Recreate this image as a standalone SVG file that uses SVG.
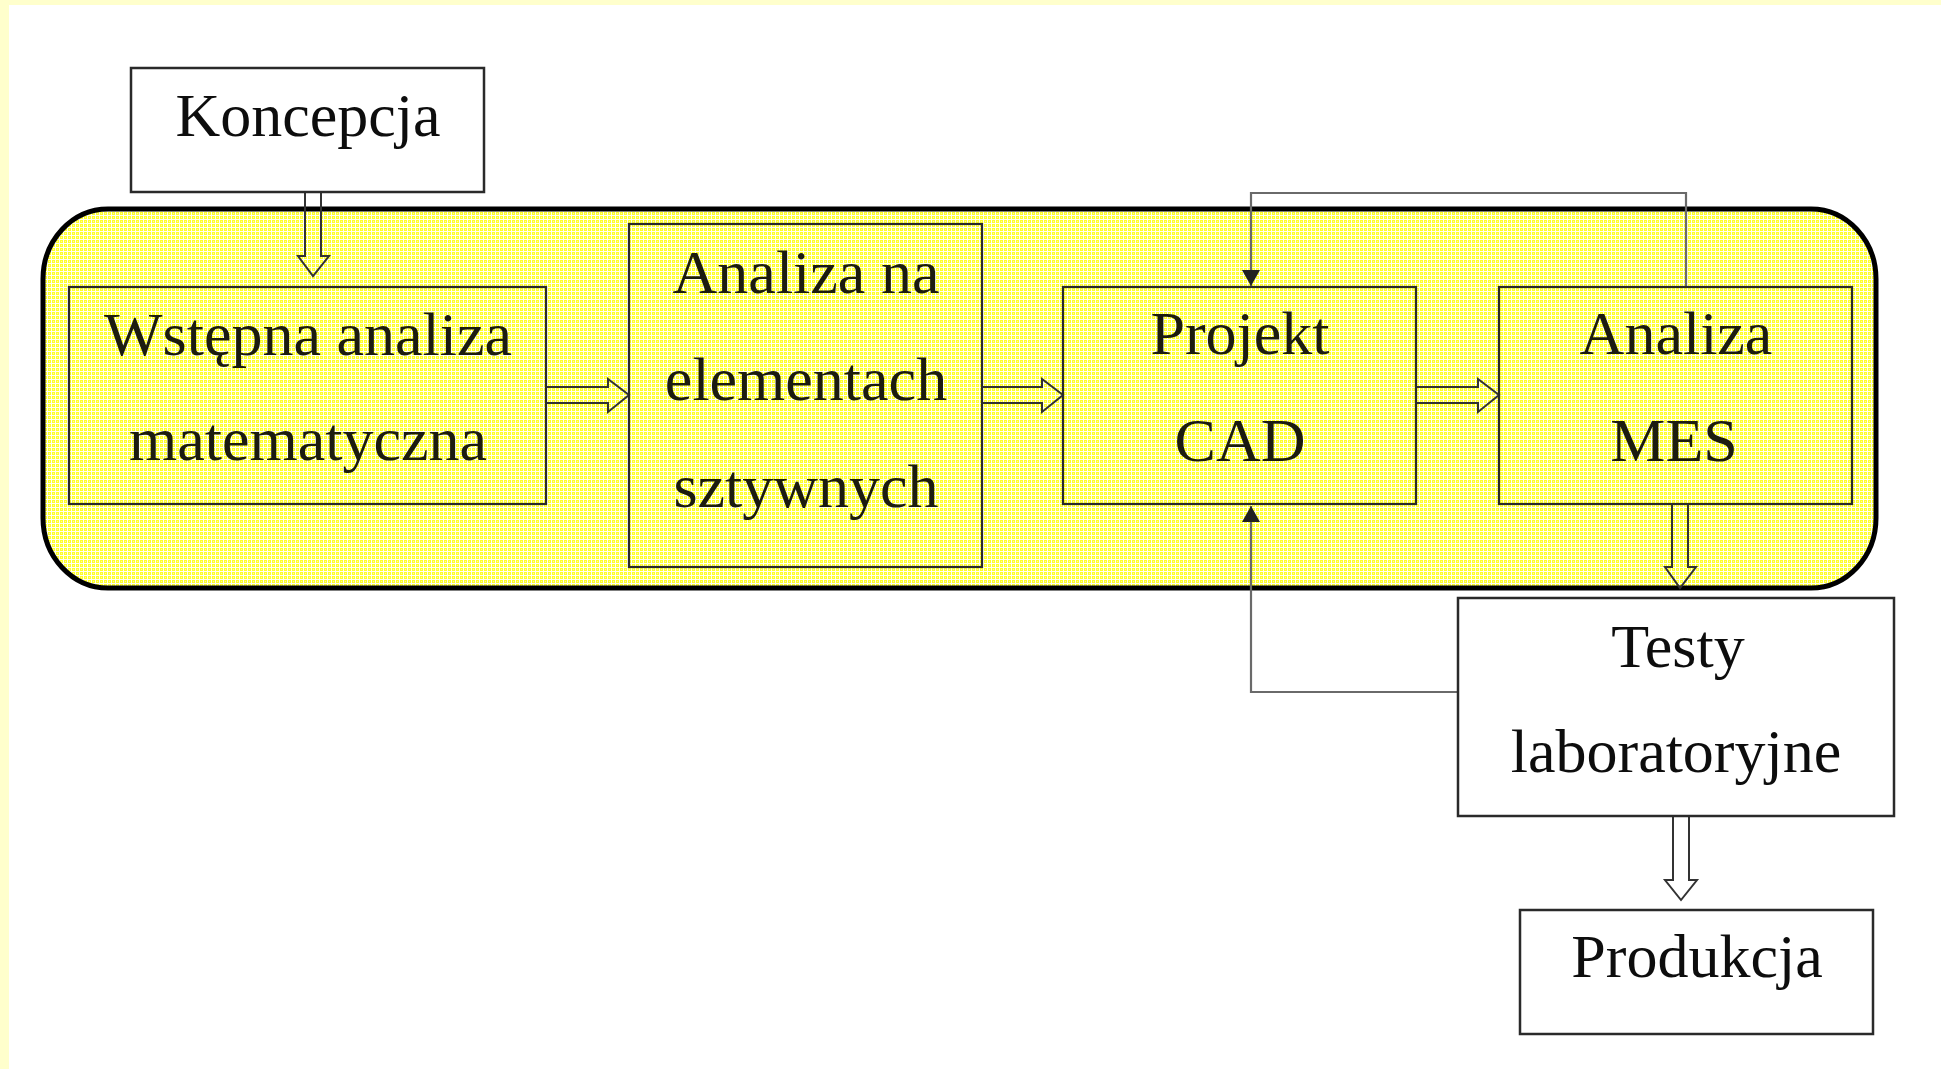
<svg xmlns="http://www.w3.org/2000/svg" width="1941" height="1069" viewBox="0 0 1941 1069">
  <defs>
    <pattern id="dots" x="0" y="0" width="4" height="4" patternUnits="userSpaceOnUse">
      <rect x="0" y="0" width="4" height="4" fill="#fffff2"/>
      <rect x="0" y="0" width="3" height="3" fill="#ffff2a"/>
      <rect x="1" y="1" width="1" height="1" fill="#ffff9a"/>
    </pattern>
    <marker id="tip" viewBox="0 0 16 18" refX="16" refY="9" markerWidth="16" markerHeight="18" markerUnits="userSpaceOnUse" orient="auto">
      <path d="M0,0 L16,9 L0,18 Z" fill="#222"/>
    </marker>
  </defs>
  <style>
    .box { fill: none; stroke: #2a2a2a; stroke-width: 2.2; }
    .wbox { fill: #ffffff; stroke: #2a2a2a; stroke-width: 2.5; }
    .lbl { font-family: "Liberation Serif", "Times New Roman", serif; font-size: 62px; fill: #0d0d0d; text-anchor: middle; }
    .in { fill: #1c1c10; }
    .hollow { fill: none; stroke: #333333; stroke-width: 2; stroke-linejoin: miter; }
    .fb { fill: none; stroke: #6a6a6a; stroke-width: 2.2; }
  </style>

  <!-- background -->
  <rect x="0" y="0" width="1941" height="1069" fill="#ffffff"/>
  <rect x="0" y="0" width="1941" height="5" fill="#ffffcc"/>
  <rect x="0" y="0" width="9" height="1069" fill="#ffffcc"/>

  <!-- container -->
  <g id="container">
    <rect x="43" y="209" width="1833" height="379" rx="65" ry="70" fill="url(#dots)" stroke="#000000" stroke-width="5"/>
  </g>

  <!-- connectors -->
  <g id="connectors">
    <!-- Koncepcja -> Wstepna -->
    <path class="hollow" d="M305,192 V256 H298 L313,276 L329,256 H321 V192"/>
    <!-- Wstepna -> Analiza na -->
    <path class="hollow" d="M546,387 H608 V379 L629,395 L608,412 V403 H546"/>
    <!-- Analiza na -> Projekt -->
    <path class="hollow" d="M982,387 H1042 V379 L1063,395 L1042,412 V403 H982"/>
    <!-- Projekt -> Analiza MES -->
    <path class="hollow" d="M1416,387 H1478 V379 L1499,395 L1478,412 V403 H1416"/>
    <!-- Analiza MES -> Testy -->
    <path class="hollow" d="M1672,504 V567 H1665 L1680,588 L1696,567 H1688 V504"/>
    <!-- Testy -> Produkcja -->
    <path class="hollow" d="M1673,816 V880 H1665 L1681,900 L1697,880 H1689 V816"/>
    <!-- feedback MES -> Projekt (top) -->
    <path class="fb" d="M1686,287 V193 H1251 V286" marker-end="url(#tip)"/>
    <!-- feedback Testy -> Projekt (bottom) -->
    <path class="fb" d="M1458,692 H1251 V506" marker-end="url(#tip)"/>
  </g>

  <!-- nodes -->
  <g id="koncepcja">
    <rect class="wbox" x="131" y="68" width="353" height="124"/>
    <text class="lbl" x="308" y="136">Koncepcja</text>
  </g>
  <g id="wstepna">
    <rect class="box" x="69" y="287" width="477" height="217"/>
    <text class="lbl in" x="308" y="355">Wstępna analiza</text>
    <text class="lbl in" x="308" y="460">matematyczna</text>
  </g>
  <g id="analiza-es">
    <rect class="box" x="629" y="224" width="353" height="343"/>
    <text class="lbl in" x="806" y="293">Analiza na</text>
    <text class="lbl in" x="806" y="400">elementach</text>
    <text class="lbl in" x="806" y="507">sztywnych</text>
  </g>
  <g id="projekt-cad">
    <rect class="box" x="1063" y="287" width="353" height="217"/>
    <text class="lbl in" x="1240" y="354">Projekt</text>
    <text class="lbl in" x="1240" y="461">CAD</text>
  </g>
  <g id="analiza-mes">
    <rect class="box" x="1499" y="287" width="353" height="217"/>
    <text class="lbl in" x="1676" y="354">Analiza</text>
    <text class="lbl in" x="1674" y="461">MES</text>
  </g>
  <g id="testy">
    <rect class="wbox" x="1458" y="598" width="436" height="218"/>
    <text class="lbl" x="1678" y="667">Testy</text>
    <text class="lbl" x="1676" y="772">laboratoryjne</text>
  </g>
  <g id="produkcja">
    <rect class="wbox" x="1520" y="910" width="353" height="124"/>
    <text class="lbl" x="1697" y="977">Produkcja</text>
  </g>
</svg>
